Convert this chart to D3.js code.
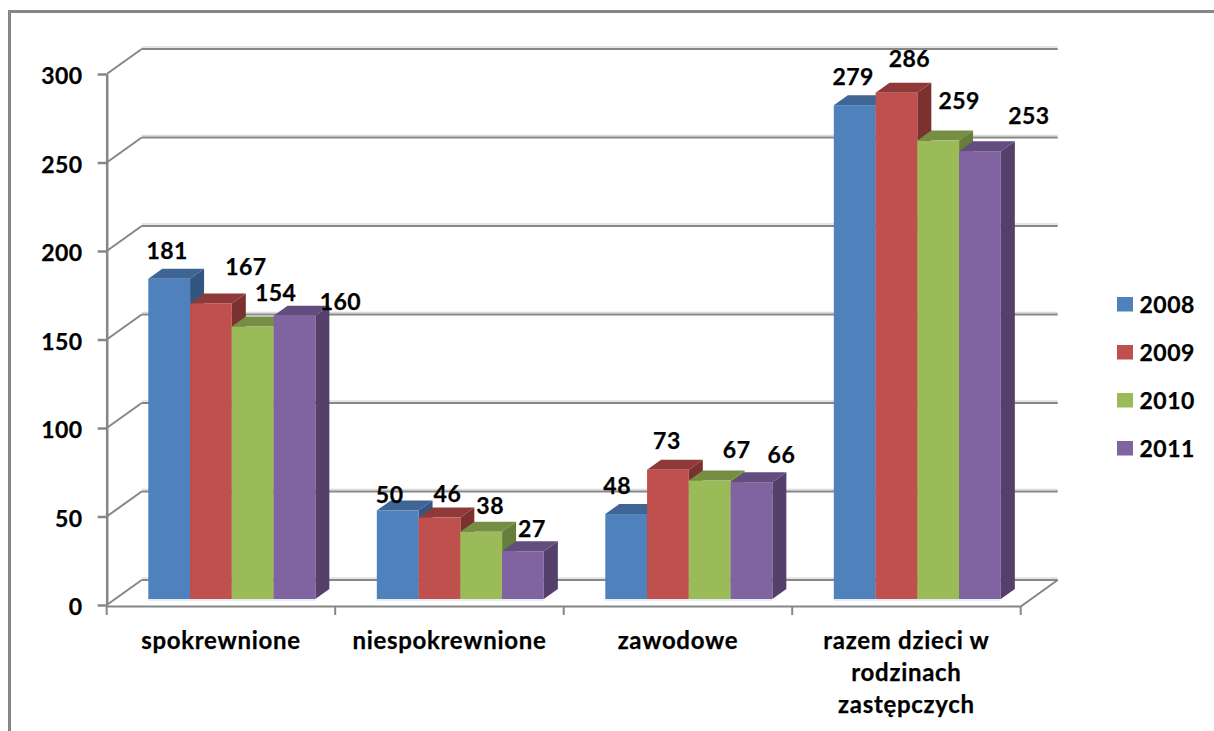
<!DOCTYPE html>
<html>
<head>
<meta charset="utf-8">
<script src="https://cdn.jsdelivr.net/npm/d3@7"></script>
<style>
html, body { margin: 0; padding: 0; background: #fff; overflow: hidden; }
text { font-family: Lato, "Noto Sans", sans-serif; font-weight: 700; fill: #000; stroke: #000; stroke-width: 0.25px; letter-spacing: 0.5px; }
.cat text { letter-spacing: 0.7px; }
</style>
</head>
<body>
<script>
// dane
const categories = [["spokrewnione"], ["niespokrewnione"], ["zawodowe"], ["razem dzieci w", "rodzinach", "zastępczych"]];
const years = ["2008", "2009", "2010", "2011"];
const v2008 = [181, 50, 48, 279];
const v2009 = [167, 46, 73, 286];
const v2010 = [154, 38, 67, 259];
const v2011 = [160, 27, 66, 253];
const seriesValues = [v2008, v2009, v2010, v2011];
const yTicks = [0, 50, 100, 150, 200, 250, 300];

// kolory: front, gora, bok
const colors = ["#4f81bd", "#c0504d", "#9bbb59", "#8064a2"];
const topColors = ["#3e6594", "#8f3a38", "#758e44", "#634d7e"];
const sideColors = ["#335680", "#7b3130", "#677d3a", "#553f6b"];

// przesuniecia etykiet wzgledem slupka (rok x kategoria)
const labelNudge = [
    [[-2, -20], [-8, -8], [-9, -20], [-1.5, -20]],
    [[35, -28], [8, -16], [-1, -21], [13, -26]],
    [[23, -25], [9, -18], [27, -22], [21, -32]],
    [[46, -6], [9, -14], [30, -19], [49, -27]]
];

const fontSize = 23;
const catFontSize = 24;
const gray = "#868686";
const wallDx = 35, wallDy = -25;     // glebokosc sciany
const barDx = 14, barDy = -10;       // glebokosc slupka
const floorLift = 6;                 // slupek stoi troche nad przednia krawedzia

const svg = d3.select("body").append("svg")
    .attr("width", 1214)
    .attr("height", 731);

// ramka wykresu
svg.append("path")
    .attr("d", "M1216,11.5H9.5V733")
    .attr("fill", "none")
    .attr("stroke", gray)
    .attr("stroke-width", 3);

const y = d3.scaleLinear().domain([0, 300]).range([605, 74]);
const x0 = d3.scaleBand()
    .domain(categories.map((d, i) => i))
    .range([106.7, 1020.7])
    .paddingInner(0.269)
    .paddingOuter(0.1345)
    .align(0.677);
const x1 = d3.scaleBand().domain(years.map((d, i) => i)).range([0, x0.bandwidth()]);
const xEnd = x0.range()[1];

// siatka na tylnej scianie i bocznej scianie
const grid = svg.append("g").attr("class", "grid");
grid.selectAll(".shade").data(yTicks).enter().append("line")
    .attr("x1", 106.7 + wallDx).attr("x2", xEnd + 37)
    .attr("y1", (d) => y(d) + wallDy - 2).attr("y2", (d) => y(d) + wallDy - 2)
    .attr("stroke", "#dcdcdc").attr("stroke-width", 1.5);
grid.selectAll(".back").data(yTicks).enter().append("line")
    .attr("x1", 106.7 + wallDx).attr("x2", xEnd + 37)
    .attr("y1", (d) => y(d) + wallDy).attr("y2", (d) => y(d) + wallDy)
    .attr("stroke", gray).attr("stroke-width", 2);
grid.selectAll(".side").data(yTicks).enter().append("line")
    .attr("x1", 106.7).attr("x2", 106.7 + wallDx)
    .attr("y1", (d) => y(d)).attr("y2", (d) => y(d) + wallDy)
    .attr("stroke", gray).attr("stroke-width", 2);
// podloga
grid.append("path")
    .attr("d", `M106.7,606.5H${xEnd}L${xEnd + 37},${y(0) + wallDy}`)
    .attr("fill", "none").attr("stroke", gray).attr("stroke-width", 2);

// os Y
const yAxis = svg.append("g")
    .attr("transform", "translate(106.7,0)")
    .call(d3.axisLeft(y).tickValues(yTicks).tickSize(9).tickPadding(15).tickSizeOuter(0));
yAxis.select(".domain").attr("stroke", gray).attr("stroke-width", 2.5);
yAxis.selectAll(".tick line").attr("stroke", gray).attr("stroke-width", 2.5);
yAxis.selectAll("text")
    .attr("font-size", fontSize)
    .attr("dy", "0.42em");
yAxis.attr("font-family", null).attr("font-size", null);

// kreski kategorii
svg.append("g").selectAll("line")
    .data(d3.range(categories.length + 1))
    .enter().append("line")
    .attr("x1", (d) => 106.7 + d * (xEnd - 106.7) / categories.length)
    .attr("x2", (d) => 106.7 + d * (xEnd - 106.7) / categories.length)
    .attr("y1", 606).attr("y2", 615)
    .attr("stroke", gray).attr("stroke-width", 2);

// slupki
const bars = [];
seriesValues.forEach((vals, s) => {
    vals.forEach((v, c) => {
        bars.push({ s: s, c: c, v: v });
    });
});
const barX = (d) => x0(d.c) + x1(d.s);
const barTop = (d) => y(d.v) - floorLift;
const base = y(0) - floorLift;
const w = x1.bandwidth();

const barG = svg.append("g").selectAll("g")
    .data(bars.slice().sort((a, b) => a.c - b.c || a.s - b.s))
    .enter().append("g");
barG.append("rect")
    .attr("x", barX)
    .attr("y", base)
    .attr("width", w)
    .attr("height", 2)
    .attr("fill", "#e3ebf5");
barG.append("path")
    .attr("d", (d) => {
        const x = barX(d) + w, t = barTop(d);
        return `M${x},${t}l${barDx},${barDy}V${base + barDy}l${-barDx},${-barDy}Z`;
    })
    .attr("fill", (d) => sideColors[d.s]);
barG.append("path")
    .attr("d", (d) => {
        const x = barX(d), t = barTop(d);
        return `M${x},${t}l${barDx},${barDy}h${w}l${-barDx},${-barDy}Z`;
    })
    .attr("fill", (d) => topColors[d.s]);
barG.append("rect")
    .attr("x", barX)
    .attr("y", barTop)
    .attr("width", w)
    .attr("height", (d) => base - barTop(d))
    .attr("fill", (d) => colors[d.s]);

// etykiety wartosci
svg.append("g").selectAll("text")
    .data(bars)
    .enter().append("text")
    .attr("x", (d) => barX(d) + w / 2 + labelNudge[d.s][d.c][0])
    .attr("y", (d) => barTop(d) + labelNudge[d.s][d.c][1])
    .attr("text-anchor", "middle")
    .attr("font-size", fontSize)
    .text((d) => d.v);

// etykiety kategorii
const catText = svg.append("g").attr("class", "cat").selectAll("text")
    .data(categories)
    .enter().append("text")
    .attr("text-anchor", "middle")
    .attr("font-size", catFontSize);
catText.selectAll("tspan")
    .data((d, i) => d.map((t) => ({ t: t, i: i })))
    .enter().append("tspan")
    .attr("x", (d) => 106.7 + (d.i + 0.5) * (xEnd - 106.7) / categories.length)
    .attr("y", (d, j) => 648.5 + j * 32)
    .text((d) => d.t);

// legenda
const legend = svg.append("g").selectAll("g")
    .data(years)
    .enter().append("g")
    .attr("transform", (d, i) => `translate(1117,${297 + i * 48})`);
legend.append("rect")
    .attr("width", 16)
    .attr("height", 14.5)
    .attr("fill", (d, i) => colors[i]);
legend.append("text")
    .attr("x", 22.5)
    .attr("y", 15.5)
    .attr("font-size", fontSize)
    .text((d) => d);
</script>
</body>
</html>
